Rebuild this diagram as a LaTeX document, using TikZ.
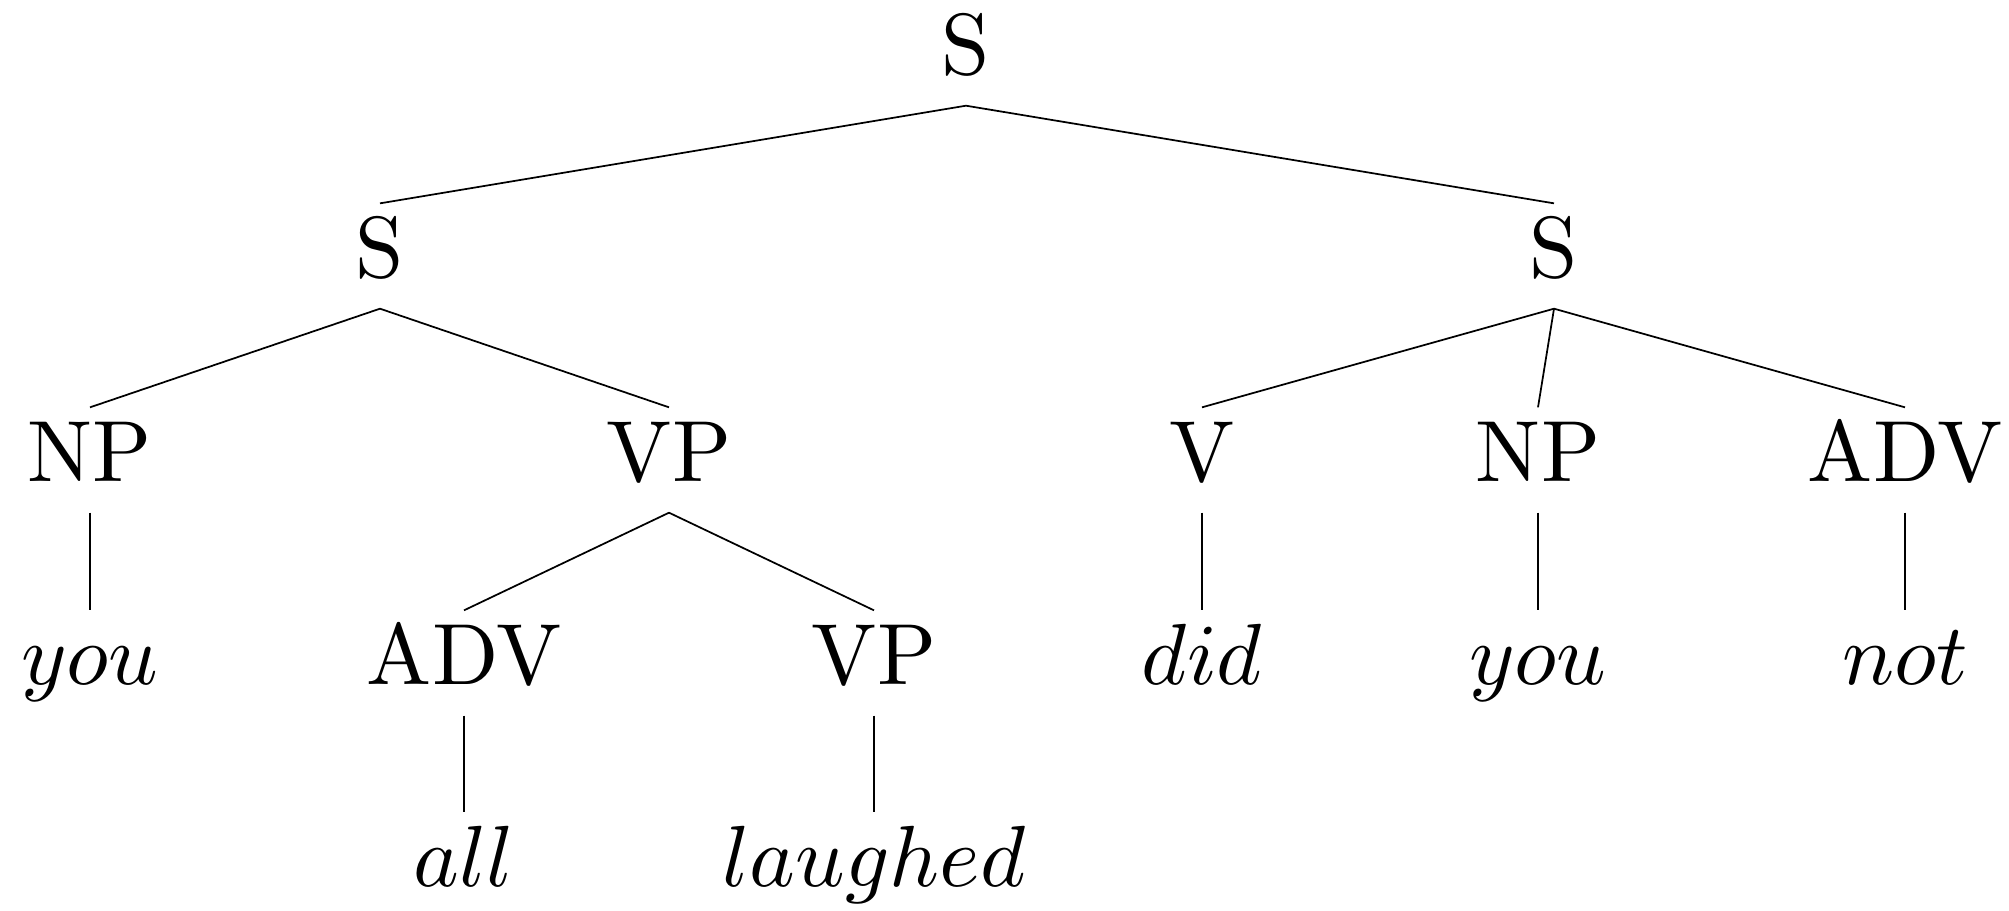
\documentclass[tikz,border=0pt]{standalone}
\usepackage{graphicx}
\newcommand\tx[1]{\scalebox{2.5}{#1}}
\begin{document}
\begin{tikzpicture}[x=0.288pt,y=-0.288pt,
  tn/.style={font=\normalsize, inner sep=0pt, text height=21.3pt, text depth=8.64pt, anchor=base},
  edge/.style={line width=0.5pt}]
\useasboundingbox (0,0) rectangle (2009,911);
% level 0
\node[tn] (s) at (966,75) {\tx{S}};
% level 1
\node[tn] (sl) at (380,278) {\tx{S}};
\node[tn] (sr) at (1554,278) {\tx{S}};
% level 2
\node[tn] (np1) at (90,482) {\tx{NP}};
\node[tn] (vp1) at (669,482) {\tx{VP}};
\node[tn] (v) at (1202,482) {\tx{V}};
\node[tn] (np2) at (1538,482) {\tx{NP}};
\node[tn] (adv2) at (1905,482) {\tx{ADV}};
% level 3
\node[tn] (you1) at (90,685) {\tx{$you$}};
\node[tn] (adv1) at (464,685) {\tx{ADV}};
\node[tn] (vp2) at (874,685) {\tx{VP}};
\node[tn] (did) at (1202,685) {\tx{$did$}};
\node[tn] (you2) at (1538,685) {\tx{$you$}};
\node[tn] (not) at (1905,685) {\tx{$not$}};
% level 4
\node[tn] (all) at (464,887) {\tx{$all$}};
\node[tn] (laughed) at (874,887) {\tx{$laughed$}};
% edges
\draw[edge] (s.south) -- (sl.north);
\draw[edge] (s.south) -- (sr.north);
\draw[edge] (sl.south) -- (np1.north);
\draw[edge] (sl.south) -- (vp1.north);
\draw[edge] (sr.south) -- (v.north);
\draw[edge] (sr.south) -- (np2.north);
\draw[edge] (sr.south) -- (adv2.north);
\draw[edge] (np1.south) -- (you1.north);
\draw[edge] (vp1.south) -- (adv1.north);
\draw[edge] (vp1.south) -- (vp2.north);
\draw[edge] (v.south) -- (did.north);
\draw[edge] (np2.south) -- (you2.north);
\draw[edge] (adv2.south) -- (not.north);
\draw[edge] (adv1.south) -- (all.north);
\draw[edge] (vp2.south) -- (laughed.north);
\end{tikzpicture}
\end{document}
